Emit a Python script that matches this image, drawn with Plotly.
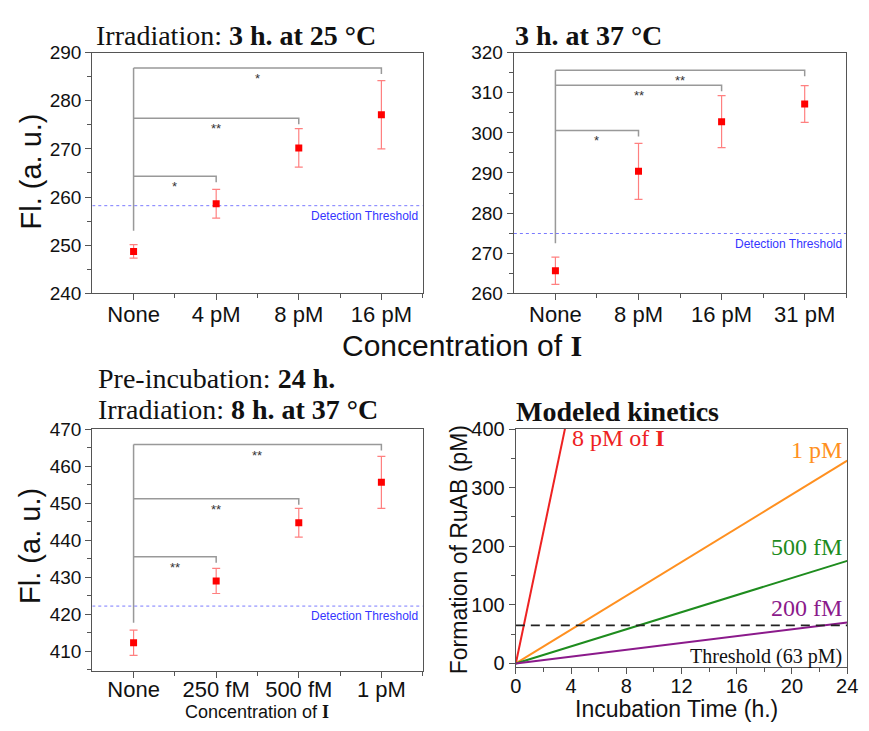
import plotly.graph_objects as go

SANS = "Liberation Sans, Arial, sans-serif"
SERIF = "Liberation Serif, Times New Roman, serif"

# top-left panel: irradiation 3 h. at 25 °C
p1_labels = ["None", "4 pM", "8 pM", "16 pM"]
p1_fl = [248.7, 258.6, 270.2, 277.1]
p1_err = [1.4, 3.0, 4.0, 7.1]
p1_bracket = [264.3, 276.4, 286.8]
p1_bracket_base = 253.0
p1_stars = ["*", "**", "*"]
p1_threshold = 258.2

# top-right panel: 3 h. at 37 °C
p2_labels = ["None", "8 pM", "16 pM", "31 pM"]
p2_fl = [265.6, 290.4, 302.8, 307.2]
p2_err = [3.4, 7.0, 6.5, 4.6]
p2_bracket = [300.6, 311.9, 315.6]
p2_bracket_base = 272.5
p2_stars = ["*", "**", "**"]
p2_threshold = 274.9

# bottom-left panel: pre-incubation 24 h., irradiation 8 h. at 37 °C
p3_labels = ["None", "250 fM", "500 fM", "1 pM"]
p3_fl = [412.3, 429.0, 444.7, 455.6]
p3_err = [3.4, 3.4, 3.9, 7.0]
p3_bracket = [435.5, 451.2, 465.8]
p3_bracket_base = 417.7
p3_stars = ["**", "**", "**"]
p3_threshold = 422.2

# bottom-right panel: modeled kinetics
time_h = [0, 24]
ruab_8pM = [0, 2700]
ruab_1pM = [0, 346]
ruab_500fM = [0, 175]
ruab_200fM = [0, 70]
threshold_pM = 65

W, H = 869, 731


def px_x(a, b):
    return [a / W, b / W]


def px_y(top, bottom):
    return [1 - bottom / H, 1 - top / H]


fig = go.Figure()
annotations = []

axis_common = dict(showline=True, mirror=True, linecolor="#555", linewidth=1.3,
                   ticks="outside", ticklen=6, tickwidth=1.2, tickcolor="#555",
                   showgrid=False, zeroline=False, color="#111",
                   ticklabeloverflow="allow")


def add_panel(n, labels, fl, err, bracket, base, stars, thr, yrange, xdom, ydom, standoff):
    xa, ya = ("x%d" % n, "y%d" % n)
    span = yrange[1] - yrange[0]
    idx = list(range(len(labels)))
    # significance brackets
    bx, by = [0, 0, None], [base, max(bracket), None]
    for i, lev in enumerate(bracket):
        bx += [0, i + 1, i + 1, None]
        by += [lev, lev, lev - span * 0.025, None]
    fig.add_trace(go.Scatter(x=bx, y=by, mode="lines", line=dict(color="#999", width=1.5),
                             xaxis=xa, yaxis=ya, showlegend=False, hoverinfo="skip"))
    for i, lev in enumerate(bracket):
        annotations.append(dict(x=(i + 1) / 2, y=lev, xref=xa, yref=ya, text=stars[i],
                                showarrow=False, xanchor="center", yanchor="top", yshift=-1,
                                font=dict(family=SANS, size=13, color="#333")))
    # detection threshold
    fig.add_trace(go.Scatter(x=[-0.5, 3.5], y=[thr, thr], mode="lines",
                             line=dict(color="#7a7aff", width=1, dash="dot"),
                             xaxis=xa, yaxis=ya, showlegend=False, hoverinfo="skip"))
    annotations.append(dict(x=3.47, y=thr, xref=xa, yref=ya, text="Detection Threshold",
                            showarrow=False, xanchor="right", yanchor="top", yshift=-1,
                            font=dict(family=SANS, size=12, color="#3535ff")))
    # data points
    fig.add_trace(go.Scatter(x=idx, y=fl, mode="markers",
                             marker=dict(symbol="square", size=7, color="#ff0000"),
                             error_y=dict(type="data", array=err, color="#ff8080",
                                          thickness=1.2, width=4),
                             xaxis=xa, yaxis=ya, showlegend=False))
    fig.layout["xaxis%d" % n] = dict(axis_common, domain=xdom, anchor=ya, range=[-0.5, 3.5],
                                     tickmode="array", tickvals=idx, ticktext=labels,
                                     tickfont=dict(family=SANS, size=22),
                                     ticklabelstandoff=standoff,
                                     minor=dict(tickmode="array", tickvals=[0.5, 1.5, 2.5, 3.5],
                                                ticklen=4, ticks="outside", tickcolor="#555"))
    fig.layout["yaxis%d" % n] = dict(axis_common, domain=ydom, anchor=xa, range=yrange,
                                     dtick=10, tickfont=dict(family=SANS, size=19),
                                     minor=dict(dtick=5, ticklen=4, ticks="outside",
                                                tickcolor="#555"))


add_panel(1, p1_labels, p1_fl, p1_err, p1_bracket, p1_bracket_base, p1_stars, p1_threshold,
          [240, 290], px_x(88, 425), px_y(43, 291), -5)
add_panel(2, p2_labels, p2_fl, p2_err, p2_bracket, p2_bracket_base, p2_stars, p2_threshold,
          [260, 320], px_x(518, 857), px_y(43, 291), -5)
add_panel(3, p3_labels, p3_fl, p3_err, p3_bracket, p3_bracket_base, p3_stars, p3_threshold,
          [404.8, 470], px_x(88, 425), px_y(431, 680), -7)

# modeled kinetics panel
kin = [(ruab_8pM, "#ee2222"), (ruab_1pM, "#ff9020"), (ruab_500fM, "#1e8c1e"),
       (ruab_200fM, "#8b1a8b")]
for vals, col in kin:
    fig.add_trace(go.Scatter(x=time_h, y=vals, mode="lines", line=dict(color=col, width=2),
                             xaxis="x4", yaxis="y4", showlegend=False))
fig.add_trace(go.Scatter(x=time_h, y=[threshold_pM, threshold_pM], mode="lines",
                         line=dict(color="#222", width=1.6, dash="9px,6px"),
                         xaxis="x4", yaxis="y4", showlegend=False, hoverinfo="skip"))
fig.layout["xaxis4"] = dict(axis_common, domain=px_x(520, 858), anchor="y4", range=[0, 24],
                            dtick=4, tickfont=dict(family=SANS, size=20), ticklabelstandoff=-5,
                            minor=dict(dtick=2, ticklen=4, ticks="outside", tickcolor="#555"))
fig.layout["yaxis4"] = dict(axis_common, domain=px_y(431, 676), anchor="x4", range=[-5.5, 400],
                            dtick=100, tickfont=dict(family=SANS, size=20),
                            minor=dict(dtick=50, ticklen=4, ticks="outside", tickcolor="#555"))

kin_labels = [
    ("8 pM of <b>I</b>", 3.9, 385, "left", "#ee2222"),
    ("1 pM", 23.8, 365, "right", "#ff9020"),
    ("500 fM", 23.8, 198, "right", "#1e8c1e"),
    ("200 fM", 23.8, 94, "right", "#8b1a8b"),
]
for txt, x, y, anc, col in kin_labels:
    annotations.append(dict(x=x, y=y, xref="x4", yref="y4", text=txt, showarrow=False,
                            xanchor=anc, yanchor="middle",
                            font=dict(family=SERIF, size=24, color=col)))
annotations.append(dict(x=23.8, y=12, xref="x4", yref="y4", text="Threshold (63 pM)",
                        showarrow=False, xanchor="right", yanchor="middle",
                        font=dict(family=SERIF, size=20, color="#111")))

# titles and shared labels
titles = [
    ("Irradiation: <b>3 h. at 25 °C</b>", 90, 25),
    ("<b>3 h. at 37 °C</b>", 517, 25),
    ("Pre-incubation: <b>24 h.</b>", 92, 379),
    ("Irradiation: <b>8 h. at 37 °C</b>", 92, 411),
    ("<b>Modeled kinetics</b>", 518, 413),
]
for txt, x, y in titles:
    annotations.append(dict(x=x / W, y=1 - y / H, xref="paper", yref="paper", text=txt,
                            showarrow=False, xanchor="left", yanchor="middle",
                            font=dict(family=SERIF, size=28, color="#111")))

axis_titles = [
    ("Fl. (a. u.)", 25, 166, -90, 29),
    ("Fl. (a. u.)", 25, 552, -90, 29),
    ("Formation of RuAB (pM)", 462, 555, -90, 23),
    ("Incubation Time (h.)", 684, 720, 0, 23),
    ("Concentration of <span style='font-family:Liberation Serif'><b>I</b></span>", 465, 345, 0, 30),
    ("Concentration of <span style='font-family:Liberation Serif'><b>I</b></span>", 256, 723, 0, 18),
]
for txt, x, y, ang, sz in axis_titles:
    annotations.append(dict(x=x / W, y=1 - y / H, xref="paper", yref="paper", text=txt,
                            textangle=ang, showarrow=False, xanchor="center", yanchor="middle",
                            font=dict(family=SANS, size=sz, color="#111")))

fig.update_layout(width=W, height=H, margin=dict(l=0, r=0, t=0, b=0),
                  paper_bgcolor="white", plot_bgcolor="white",
                  annotations=annotations, showlegend=False)

fig.write_html("out.html", post_script="document.body.style.margin='0px';",
               config={"displayModeBar": False})
